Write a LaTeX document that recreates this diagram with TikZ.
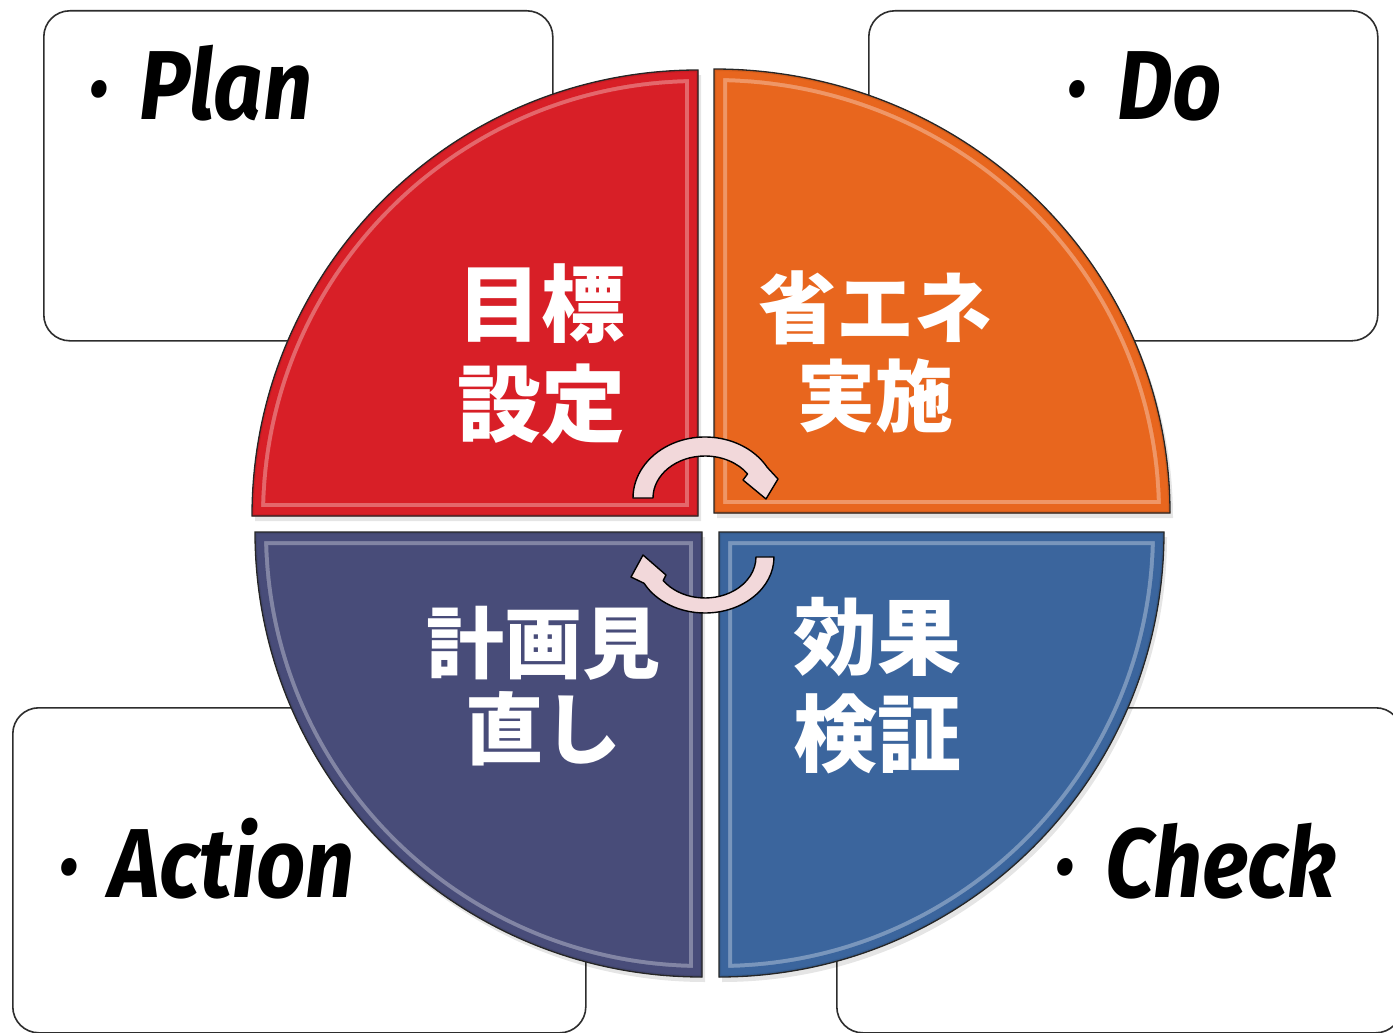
\documentclass[tikz,border=0pt]{standalone}
\usepackage{fontspec}
\newfontfamily\cjk{Noto Sans CJK JP}
\newfontfamily\labfont{Fira Sans}[FakeStretch=0.88,WordSpace=1.55]
\definecolor{qred}{RGB}{216,31,39}
\definecolor{qorange}{RGB}{232,102,30}
\definecolor{qnavy}{RGB}{72,76,121}
\definecolor{qblue}{RGB}{59,101,157}
\definecolor{arrowpink}{RGB}{242,216,218}
\definecolor{boxline}{RGB}{45,45,45}
\newcommand\myquad[2]{%
  \fill[black,opacity=0.10] [xshift=3pt,yshift=-5pt] #2;
  \begin{scope}
    \clip #2;
    \fill[#1] #2;
    \draw[#1!60!white,line width=26pt,opacity=0.8] #2;
    \draw[#1,line width=18pt] #2;
    \draw[#1!85!black,line width=4pt,opacity=0.5] #2;
  \end{scope}
  \draw[black!85,line width=1.3pt] #2;
}
\tikzset{
  cornerbox/.style={draw=boxline,line width=1.6pt,fill=white,rounded corners=26pt,
    inner sep=0pt,anchor=north west},
  phase/.style={font=\labfont\bfseries\itshape\fontsize{98}{110}\selectfont,
    anchor=base west,inner sep=0pt,text=black},
  jtext/.style={font=\cjk\bfseries\fontsize{84}{100}\selectfont,text=white,
    align=center,inner sep=0pt},
  cyclearrow/.style={fill=arrowpink,draw=black,line width=1.4pt,line join=round},
}
\begin{document}
\begin{tikzpicture}[x=1pt,y=1pt]
\useasboundingbox (0,0) rectangle (1393,-1033);
\fill[white] (0,0) rectangle (1393,-1033);

% corner boxes
\node[cornerbox,minimum width=509pt,minimum height=330pt] (planbox) at (43,-10) {};
\node[cornerbox,minimum width=509pt,minimum height=330pt] (dobox) at (868,-10) {};
\node[cornerbox,minimum width=573pt,minimum height=325pt] (actbox) at (12,-707) {};
\node[cornerbox,minimum width=565pt,minimum height=325pt] (chkbox) at (836,-707) {};

% quadrants
\myquad{qred}{(698,-516) -- (252,-516) arc[start angle=180,end angle=90,x radius=446,y radius=446] -- cycle}
\myquad{qorange}{(714,-513) -- (714,-69) arc[start angle=90,end angle=0,x radius=456,y radius=444] -- cycle}
\myquad{qnavy}{(702,-532) -- (702,-977) arc[start angle=270,end angle=180,x radius=447,y radius=445] -- cycle}
\myquad{qblue}{(719,-532) -- (1164,-532) arc[start angle=0,end angle=-90,x radius=445,y radius=445] -- cycle}

% cycle arrows
\filldraw[cyclearrow] (653,-498) arc[start angle=180,end angle=35,x radius=52,y radius=42]
  -- (743,-480) -- (766,-499) -- (778,-479) -- (767.35,-467.5)
  arc[start angle=30,end angle=180,x radius=72,y radius=61] -- cycle;
\filldraw[cyclearrow] (774,-557) arc[start angle=0,end angle=-152,x radius=69,y radius=56]
  -- (631,-577) -- (643,-555) -- (666,-575) -- (663.2,-580.5)
  arc[start angle=-145,end angle=0,x radius=51,y radius=41] -- cycle;

% quadrant texts
\node[jtext] (plan) at (541,-354) {目標\\設定};
\node[jtext,font=\cjk\bfseries\fontsize{78}{88}\selectfont] (doit) at (875,-352) {省エネ\\実施};
\node[jtext,font=\cjk\bfseries\fontsize{78}{86}\selectfont] (act) at (543,-686) {計画見\\直し};
\node[jtext,font=\cjk\bfseries\fontsize{84}{97}\selectfont] (chk) at (877,-686) {効果\\検証};

% phase labels
\node[phase] (planlab) at (88,-120) {· Plan};
\node[phase] (dolab) at (1066,-120) {· Do};
\node[phase] (actlab) at (58,-897) {· Action};
\node[phase] (chklab) at (1054,-897) {· Check};
\end{tikzpicture}
\end{document}
